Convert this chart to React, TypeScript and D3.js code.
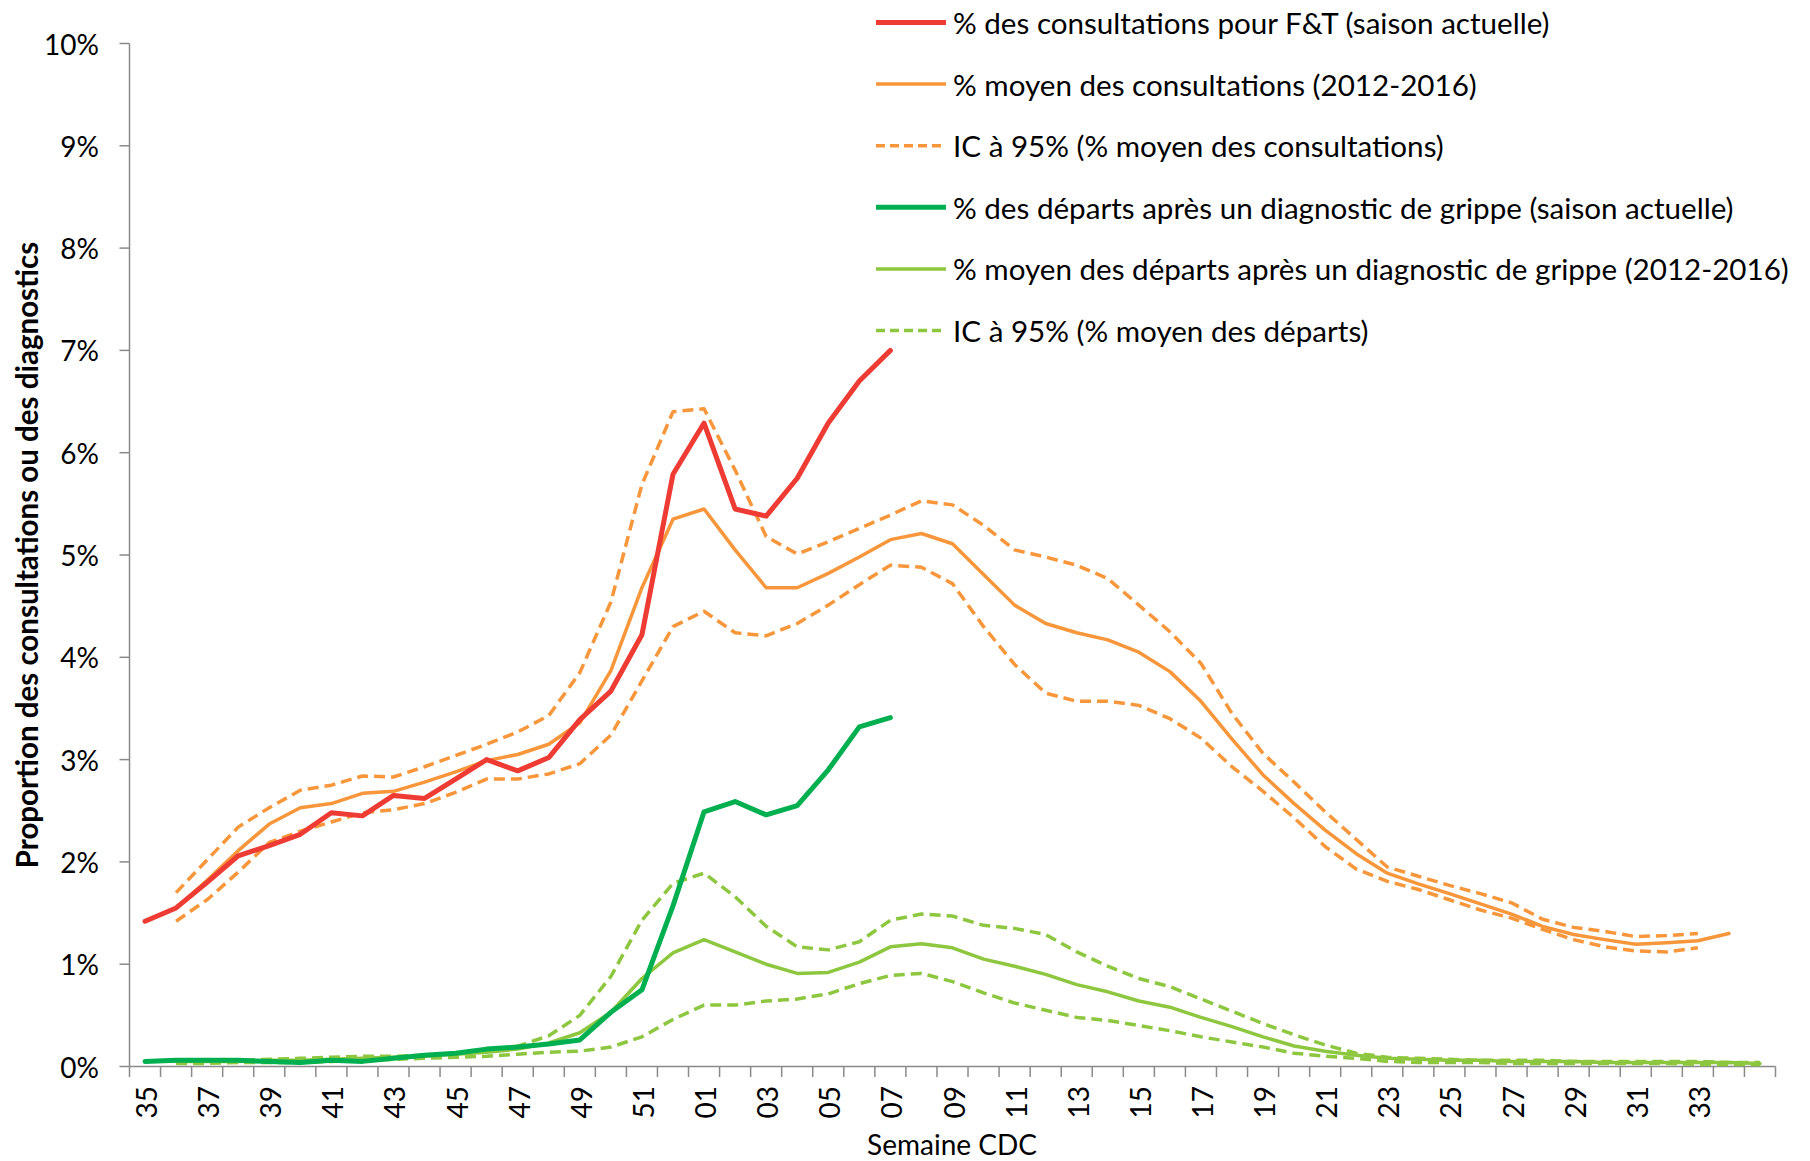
import React from "react";
import * as d3 from "d3";

// Weeks (CDC) — season 35 → 35 ; last category has no label
const weeks: string[] = [
  "35","36","37","38","39","40","41","42","43","44","45","46","47","48","49","50","51","52",
  "01","02","03","04","05","06","07","08","09","10","11","12","13","14","15","16","17","18",
  "19","20","21","22","23","24","25","26","27","28","29","30","31","32","33","34",""
];

const N = null;

// % consultations F&T, current season (wk35 → wk07)
const consultCurrent: (number | null)[] = [
  1.42, 1.55, 1.80, 2.06, 2.16, 2.27, 2.48, 2.45, 2.65, 2.62, 2.81, 3.00, 2.89, 3.02, 3.39, 3.67, 4.22, 5.79,
  6.29, 5.45, 5.38, 5.75, 6.29, 6.70, 7.00
];

// % moyen des consultations 2012-2016 (wk36 → wk34)
const consultMean: (number | null)[] = [
  N, 1.55, 1.82, 2.11, 2.37, 2.53, 2.57, 2.67, 2.69, 2.78, 2.88, 2.99, 3.05, 3.15, 3.36, 3.87, 4.68, 5.35,
  5.45, 5.05, 4.68, 4.68, 4.82, 4.98, 5.15, 5.21, 5.11, 4.81, 4.51, 4.33, 4.24, 4.17, 4.05, 3.86, 3.57, 3.20,
  2.85, 2.57, 2.31, 2.08, 1.89, 1.785, 1.69, 1.59, 1.49, 1.37, 1.29, 1.24, 1.195, 1.21, 1.23, 1.30
];

// IC 95% upper (wk36 → wk33)
const consultUpper: (number | null)[] = [
  N, 1.70, 2.02, 2.34, 2.53, 2.70, 2.75, 2.84, 2.83, 2.93, 3.04, 3.15, 3.27, 3.43, 3.85, 4.54, 5.69, 6.40,
  6.43, 5.83, 5.18, 5.01, 5.13, 5.26, 5.39, 5.53, 5.49, 5.29, 5.05, 4.98, 4.90, 4.77, 4.51, 4.25, 3.94, 3.45,
  3.06, 2.78, 2.49, 2.22, 1.95, 1.86, 1.77, 1.69, 1.60, 1.44, 1.36, 1.32, 1.27, 1.28, 1.30
];

// IC 95% lower (wk36 → wk33)
const consultLower: (number | null)[] = [
  N, 1.42, 1.63, 1.90, 2.19, 2.30, 2.39, 2.48, 2.51, 2.57, 2.68, 2.81, 2.81, 2.86, 2.96, 3.24, 3.77, 4.30,
  4.45, 4.24, 4.21, 4.33, 4.51, 4.71, 4.90, 4.88, 4.72, 4.30, 3.93, 3.65, 3.57, 3.57, 3.53, 3.40, 3.21, 2.93,
  2.69, 2.43, 2.15, 1.93, 1.81, 1.73, 1.63, 1.53, 1.45, 1.34, 1.24, 1.17, 1.13, 1.12, 1.16
];

// % des départs après diagnostic de grippe, current season (wk35 → wk07)
const departCurrent: (number | null)[] = [
  0.05, 0.06, 0.06, 0.06, 0.05, 0.04, 0.06, 0.05, 0.08, 0.11, 0.13, 0.17, 0.19, 0.22, 0.26, 0.53, 0.75, 1.57,
  2.49, 2.59, 2.46, 2.55, 2.90, 3.32, 3.41
];

// % moyen des départs 2012-2016 (wk36 → wk35)
const departMean: (number | null)[] = [
  N, 0.05, 0.05, 0.05, 0.06, 0.06, 0.07, 0.08, 0.09, 0.10, 0.12, 0.14, 0.17, 0.23, 0.33, 0.53, 0.86, 1.11,
  1.24, 1.12, 1.00, 0.91, 0.92, 1.02, 1.17, 1.20, 1.16, 1.05, 0.98, 0.90, 0.80, 0.73, 0.64, 0.58, 0.48, 0.39,
  0.29, 0.20, 0.15, 0.11, 0.08, 0.07, 0.06, 0.06, 0.05, 0.05, 0.05, 0.04, 0.04, 0.04, 0.04, 0.04, 0.03
];

// IC 95% départs upper
const departUpper: (number | null)[] = [
  N, 0.05, 0.06, 0.06, 0.07, 0.08, 0.09, 0.10, 0.10, 0.11, 0.13, 0.16, 0.20, 0.30, 0.50, 0.88, 1.43, 1.79,
  1.89, 1.66, 1.37, 1.17, 1.14, 1.22, 1.43, 1.49, 1.47, 1.38, 1.35, 1.29, 1.12, 0.98, 0.86, 0.78, 0.66, 0.54,
  0.42, 0.31, 0.21, 0.13, 0.09, 0.08, 0.07, 0.06, 0.06, 0.06, 0.05, 0.05, 0.05, 0.05, 0.05, 0.04, 0.04
];

// IC 95% départs lower
const departLower: (number | null)[] = [
  N, 0.03, 0.03, 0.04, 0.04, 0.04, 0.05, 0.06, 0.07, 0.08, 0.09, 0.10, 0.12, 0.14, 0.15, 0.19, 0.29, 0.46,
  0.60, 0.60, 0.64, 0.66, 0.71, 0.81, 0.89, 0.91, 0.83, 0.72, 0.62, 0.55, 0.48, 0.45, 0.40, 0.35, 0.29, 0.24,
  0.19, 0.13, 0.10, 0.08, 0.05, 0.04, 0.04, 0.04, 0.03, 0.03, 0.03, 0.03, 0.03, 0.03, 0.02, 0.02, 0.02
];

const yTicks: number[] = [0, 1, 2, 3, 4, 5, 6, 7, 8, 9, 10];

const legendLabels: string[] = [
  "% des consultations pour F&T (saison actuelle)",
  "% moyen des consultations (2012-2016)",
  "IC à 95% (% moyen des consultations)",
  "% des départs après un diagnostic de grippe (saison actuelle)",
  "% moyen des départs après un diagnostic de grippe (2012-2016)",
  "IC à 95% (% moyen des départs)",
];

const RED = "#EE3B33";
const ORANGE = "#F7963A";
const GREEN = "#00AF4F";
const LGREEN = "#8DC73F";
const AXIS = "#8A8A8A";
const FONT = "Lato, 'Open Sans', sans-serif";

export default function App() {
  const W = 1810, H = 1161;
  const left = 129.5, right = 1775.5, top = 43.5, bottom = 1066.5;

  const x = d3.scaleBand<number>().domain(d3.range(weeks.length)).range([left, right]).paddingInner(0).paddingOuter(0);
  const bw = x.bandwidth();
  const cx = (i: number) => (x(i) as number) + bw / 2;
  const y = d3.scaleLinear().domain([0, 10]).range([bottom, top]);

  const line = d3.line<number | null>()
    .defined((d) => d != null)
    .x((_, i) => cx(i))
    .y((d) => y(d as number));

  const series = [
    { data: consultUpper, color: ORANGE, w: 3.5, dash: "11,6" },
    { data: consultLower, color: ORANGE, w: 3.5, dash: "11,6" },
    { data: consultMean, color: ORANGE, w: 3.5, dash: null },
    { data: consultCurrent, color: RED, w: 5, dash: null },
    { data: departUpper, color: LGREEN, w: 3.5, dash: "11,6" },
    { data: departLower, color: LGREEN, w: 3.5, dash: "11,6" },
    { data: departMean, color: LGREEN, w: 3.5, dash: null },
    { data: departCurrent, color: GREEN, w: 5, dash: null },
  ];

  const legendStyles = [
    { color: RED, w: 5, dash: null },
    { color: ORANGE, w: 3.5, dash: null },
    { color: ORANGE, w: 3.5, dash: "9,5" },
    { color: GREEN, w: 5, dash: null },
    { color: LGREEN, w: 3.5, dash: null },
    { color: LGREEN, w: 3.5, dash: "9,5" },
  ];
  const fmt = d3.format(".0%");

  return (
    <svg width={W} height={H} style={{ position: "absolute", left: 0, top: 0, background: "#fff" }} fontFamily={FONT}>
      <rect width={W} height={H} fill="#fff" />
      {/* Y axis */}
      <line x1={left} x2={left} y1={top} y2={bottom} stroke={AXIS} strokeWidth={1.5} />
      {yTicks.map((t) => (
        <g key={t}>
          <line x1={left - 10} x2={left} y1={y(t)} y2={y(t)} stroke={AXIS} strokeWidth={1.5} />
          <text x={99} y={y(t)} textAnchor="end" dominantBaseline="central" fontSize={28} fill="#000">
            {fmt(t / 100)}
          </text>
        </g>
      ))}
      {/* X axis */}
      <line x1={left} x2={right} y1={bottom} y2={bottom} stroke={AXIS} strokeWidth={1.5} />
      {d3.range(weeks.length + 1).map((i) => {
        const xx = i < weeks.length ? (x(i) as number) : right;
        return <line key={"t" + i} x1={xx} x2={xx} y1={bottom} y2={bottom + 10.5} stroke={AXIS} strokeWidth={1.5} />;
      })}
      {weeks.map((w, i) =>
        i % 2 === 0 && w !== "" ? (
          <text key={"l" + i} transform={`translate(${cx(i) + 1},1086) rotate(-90)`} textAnchor="end"
            dominantBaseline="central" fontSize={28} fill="#000">
            {w}
          </text>
        ) : null
      )}
      {/* Axis titles */}
      <text transform={`translate(26,${(top + bottom) / 2}) rotate(-90)`} textAnchor="middle" dominantBaseline="central"
        fontSize={29.5} fontWeight="bold" fill="#000">
        Proportion des consultations ou des diagnostics
      </text>
      <text x={952} y={1144} textAnchor="middle" dominantBaseline="central" fontSize={28} fill="#000">
        Semaine CDC
      </text>
      {/* Series */}
      {series.map((s, k) => (
        <path key={"s" + k} d={line(s.data) || ""} fill="none" stroke={s.color} strokeWidth={s.w}
          strokeDasharray={s.dash || undefined} strokeLinejoin="round" strokeLinecap={s.dash ? "butt" : "round"} />
      ))}
      {/* Legend */}
      {legendLabels.map((lab, i) => {
        const ly = 22.5 + i * 61.6;
        const st = legendStyles[i];
        return (
          <g key={"lg" + i}>
            <line x1={876} x2={946} y1={ly} y2={ly} stroke={st.color} strokeWidth={st.w}
              strokeDasharray={st.dash || undefined} />
            <text x={953} y={ly} dominantBaseline="central" fontSize={29.6} fill="#000">{lab}</text>
          </g>
        );
      })}
    </svg>
  );
}
